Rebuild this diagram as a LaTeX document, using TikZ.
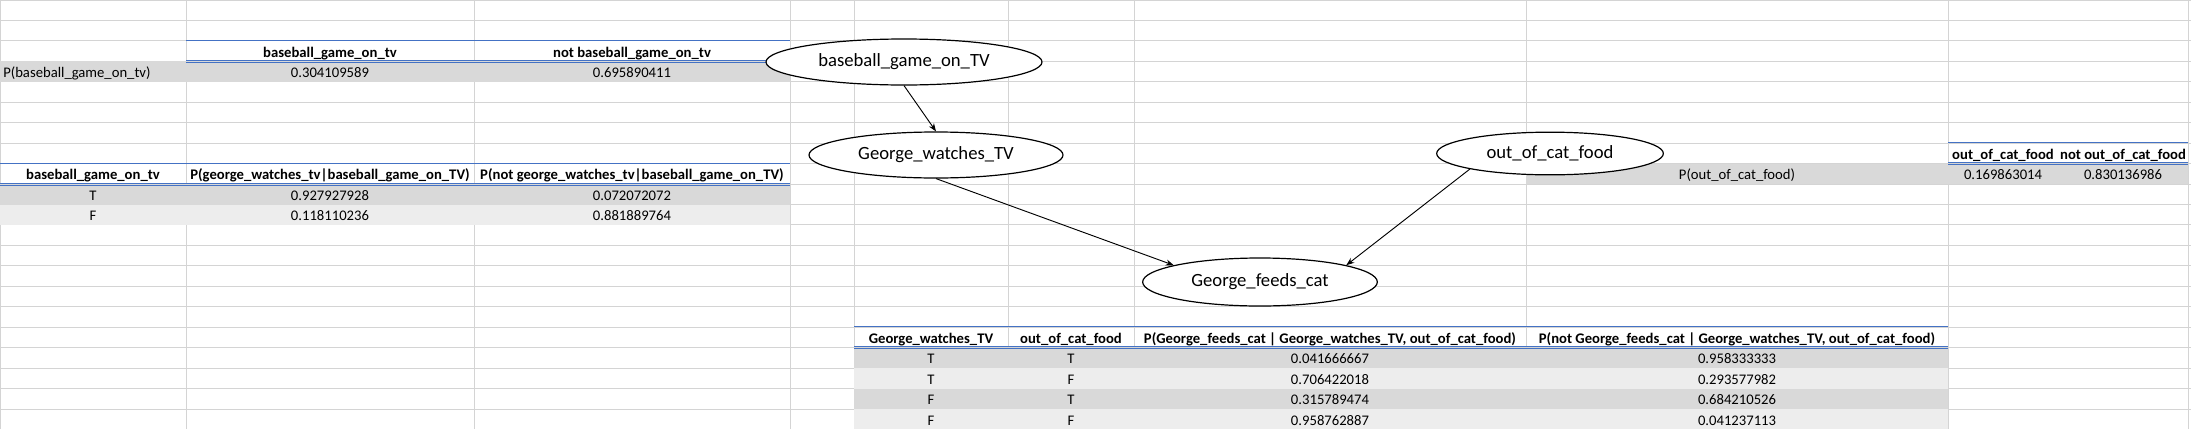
\documentclass[tikz,border=0pt]{standalone}
\usepackage{fontspec}
\setmainfont{Carlito}
\usepackage{xcolor}
\usetikzlibrary{shapes.geometric, arrows.meta}

\definecolor{gridgray}{RGB}{212,212,212}
\definecolor{rowdark}{RGB}{217,217,217}
\definecolor{rowlight}{RGB}{237,237,237}
\definecolor{tableblue}{RGB}{68,114,196}

\begin{document}
\begin{tikzpicture}[
    x=0.75pt, y=-0.75pt,
    grid/.style={draw=gridgray, line width=0.75pt},
    rule/.style={draw=tableblue, line width=0.7pt},
    cell/.style={anchor=base, inner sep=0pt, font=\fontsize{11}{13}\selectfont},
    head/.style={cell, font=\fontsize{11}{13}\selectfont\bfseries},
    var/.style={draw, ellipse, fill=white, line width=0.9pt, inner sep=0pt, font=\fontsize{14}{17}\selectfont},
    link/.style={-{Stealth[length=6pt, width=4.5pt]}, line width=0.7pt}
]
    \useasboundingbox (0,0) rectangle (2191,429);

    % Sheet grid
    \foreach \gx in {0,186,474,790,854,1008,1134,1526,1948,2188}
        \draw[grid] (\gx,0) -- (\gx,429);
    \foreach \gr in {0,...,20}
        \draw[grid] (0,{\gr*20.45}) -- (2191,{\gr*20.45});

    % Row fills
    \fill[rowdark] (0,61.35) rectangle (790,81.8);
    \fill[rowdark] (0,184.05) rectangle (790,204.5);
    \fill[rowlight] (0,204.5) rectangle (790,224.95);
    \fill[rowdark] (1526,163.6) rectangle (2188,184.05);
    \fill[rowdark] (854,347.65) rectangle (1948,368.1);
    \fill[rowlight] (854,368.1) rectangle (1948,388.55);
    \fill[rowdark] (854,388.55) rectangle (1948,409);
    \fill[rowlight] (854,409) rectangle (1948,429);

    % Header rules
    \draw[rule] (186,40.6) -- (790,40.6);
    \draw[rule] (186,60.4) -- (790,60.4);
    \draw[rule] (186,62.3) -- (790,62.3);
    \draw[rule] (0,163.3) -- (790,163.3);
    \draw[rule] (0,183.1) -- (790,183.1);
    \draw[rule] (0,185.0) -- (790,185.0);
    \draw[rule] (1948,142.9) -- (2188,142.9);
    \draw[rule] (1948,162.7) -- (2188,162.7);
    \draw[rule] (1948,164.6) -- (2188,164.6);
    \draw[rule] (854,326.9) -- (1948,326.9);
    \draw[rule] (854,346.7) -- (1948,346.7);
    \draw[rule] (854,348.6) -- (1948,348.6);

    % P(baseball_game_on_tv)
    \node[head] (t1h1) at (330,57.1) {baseball\_game\_on\_tv};
    \node[head] (t1h2) at (632,57.1) {not baseball\_game\_on\_tv};
    \node[cell, anchor=base west] (t1lab) at (3,77.55) {P(baseball\_game\_on\_tv)};
    \node[cell] (t1v1) at (330,77.55) {0.304109589};
    \node[cell] (t1v2) at (632,77.55) {0.695890411};

    % P(george_watches_tv | baseball_game_on_TV)
    \node[head] (t2h1) at (93,179.8) {baseball\_game\_on\_tv};
    \node[head] (t2h2) at (330,179.8) {P(george\_watches\_tv|baseball\_game\_on\_TV)};
    \node[head] (t2h3) at (632,179.8) {P(not george\_watches\_tv|baseball\_game\_on\_TV)};
    \node[cell] (t2a1) at (93,200.25) {T};
    \node[cell] (t2b1) at (330,200.25) {0.927927928};
    \node[cell] (t2c1) at (632,200.25) {0.072072072};
    \node[cell] (t2a2) at (93,220.7) {F};
    \node[cell] (t2b2) at (330,220.7) {0.118110236};
    \node[cell] (t2c2) at (632,220.7) {0.881889764};

    % P(out_of_cat_food)
    \node[head] (t4h1) at (2003,159.35) {out\_of\_cat\_food};
    \node[head] (t4h2) at (2123,159.35) {not out\_of\_cat\_food};
    \node[cell] (t4lab) at (1737,179.8) {P(out\_of\_cat\_food)};
    \node[cell] (t4v1) at (2003,179.8) {0.169863014};
    \node[cell] (t4v2) at (2123,179.8) {0.830136986};

    % P(George_feeds_cat | George_watches_TV, out_of_cat_food)
    \node[head] (t3h1) at (931,343.4) {George\_watches\_TV};
    \node[head] (t3h2) at (1071,343.4) {out\_of\_cat\_food};
    \node[head] (t3h3) at (1330,343.4) {P(George\_feeds\_cat | George\_watches\_TV, out\_of\_cat\_food)};
    \node[head] (t3h4) at (1737,343.4) {P(not George\_feeds\_cat | George\_watches\_TV, out\_of\_cat\_food)};
    \node[cell] (t3a1) at (931,363.85) {T};
    \node[cell] (t3b1) at (1071,363.85) {T};
    \node[cell] (t3c1) at (1330,363.85) {0.041666667};
    \node[cell] (t3d1) at (1737,363.85) {0.958333333};
    \node[cell] (t3a2) at (931,384.3) {T};
    \node[cell] (t3b2) at (1071,384.3) {F};
    \node[cell] (t3c2) at (1330,384.3) {0.706422018};
    \node[cell] (t3d2) at (1737,384.3) {0.293577982};
    \node[cell] (t3a3) at (931,404.75) {F};
    \node[cell] (t3b3) at (1071,404.75) {T};
    \node[cell] (t3c3) at (1330,404.75) {0.315789474};
    \node[cell] (t3d3) at (1737,404.75) {0.684210526};
    \node[cell] (t3a4) at (931,425.2) {F};
    \node[cell] (t3b4) at (1071,425.2) {F};
    \node[cell] (t3c4) at (1330,425.2) {0.958762887};
    \node[cell] (t3d4) at (1737,425.2) {0.041237113};

    % Network
    \node[var, minimum width=207pt, minimum height=34.5pt] (bgame) at (904,62) {baseball\_game\_on\_TV};
    \node[var, minimum width=190.5pt, minimum height=34.5pt] (gwatch) at (936,155) {George\_watches\_TV};
    \node[var, minimum width=176pt, minimum height=36pt] (feeds) at (1260,282) {George\_feeds\_cat};
    \node[var, minimum width=170pt, minimum height=32pt] (catfood) at (1550,153.5) {out\_of\_cat\_food};

    \draw[link] (bgame.south) -- (gwatch.north);
    \draw[link] (gwatch.south) -- (feeds.169);
    \draw[link] (catfood.191) -- (feeds.11);
\end{tikzpicture}
\end{document}
